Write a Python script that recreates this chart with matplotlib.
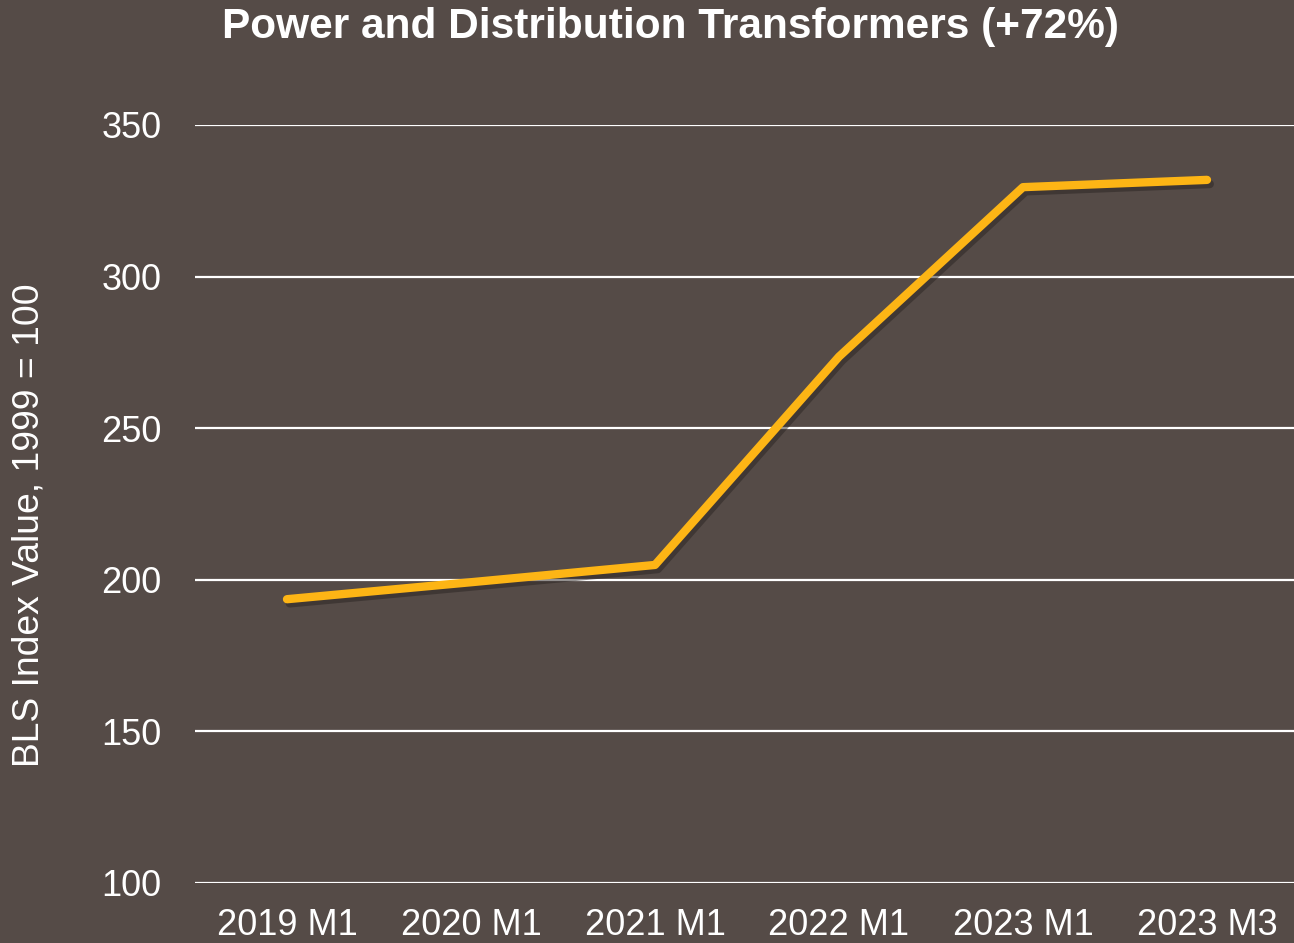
import matplotlib
matplotlib.use('Agg')
import matplotlib.pyplot as plt
import matplotlib.patheffects as pe

periods = ['2019 M1', '2020 M1', '2021 M1', '2022 M1', '2023 M1', '2023 M3']
index_value = [193.6, 199.2, 204.9, 273.6, 329.5, 331.9]
y_ticks = [100, 150, 200, 250, 300, 350]

bg = '#554b47'
plt.rcParams['font.family'] = ['Liberation Sans', 'DejaVu Sans']

fig = plt.figure(figsize=(12.94, 9.43), dpi=100, facecolor=bg)
ax = fig.add_axes([195 / 1294, 1 - 883 / 943, 1104 / 1294, 758 / 943])
ax.set_facecolor(bg)

x = range(len(periods))
ax.plot(x, index_value, color='#fdb515', lw=6, solid_capstyle='round',
        solid_joinstyle='round', zorder=3,
        path_effects=[pe.SimpleLineShadow(offset=(2, -3), shadow_color='#2a2422', alpha=0.5),
                      pe.Normal()])

ax.set_ylim(100, 350)
ax.set_xlim(-0.5, len(periods) - 0.5)
ax.set_yticks(y_ticks)
ax.set_xticks(list(x))
ax.set_xticklabels(periods)
ax.grid(axis='y', color='white', lw=1.6, zorder=1)
ax.set_axisbelow(True)
for s in ax.spines.values():
    s.set_visible(False)
ax.tick_params(axis='both', length=0, colors='white', labelsize=26)
ax.tick_params(axis='y', pad=24)
ax.tick_params(axis='x', pad=18)

fig.text(29 / 1294, 1 - 525 / 943, 'BLS Index Value, 1999 = 100', color='white',
         fontsize=26.8, rotation=90, ha='center', va='center')
fig.text(670 / 1294, 1 - 27 / 943, 'Power and Distribution Transformers (+72%)',
         color='white', fontsize=30.5, fontweight='bold', ha='center', va='center')

fig.savefig('out.png', dpi=100, facecolor=bg)
